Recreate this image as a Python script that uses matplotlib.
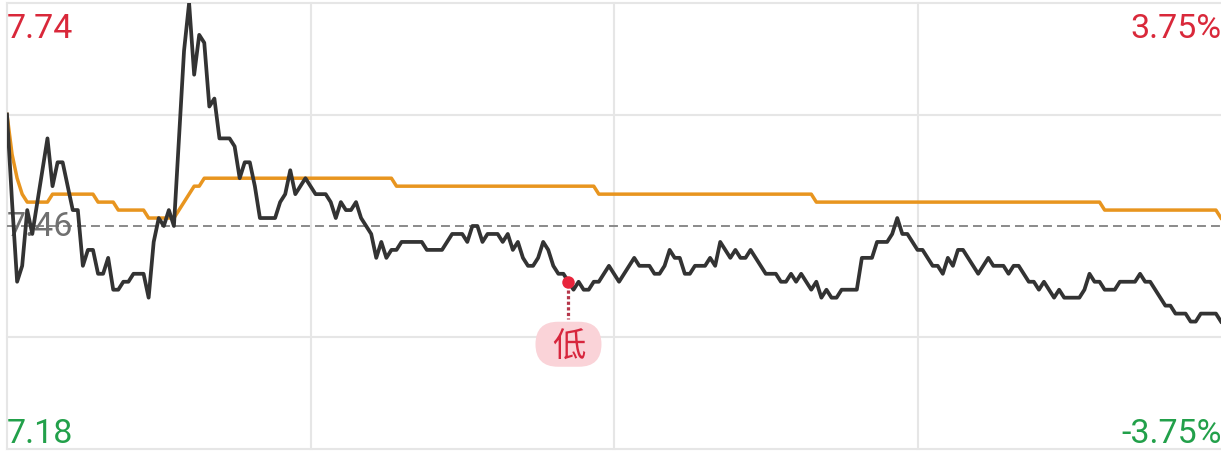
import numpy as np
import matplotlib
matplotlib.use("Agg")
import matplotlib.pyplot as plt
from matplotlib.patches import FancyBboxPatch
from matplotlib.transforms import IdentityTransform

# ---------------- data ----------------
price = [
    7.60, 7.49, 7.39, 7.41, 7.48, 7.45, 7.49, 7.53, 7.57, 7.51,
    7.54, 7.54, 7.51, 7.48, 7.48, 7.41, 7.43, 7.43, 7.40, 7.40,
    7.42, 7.38, 7.38, 7.39, 7.39, 7.40, 7.40, 7.40, 7.37, 7.44,
    7.47, 7.46, 7.48, 7.46, 7.57, 7.68, 7.74, 7.65, 7.70, 7.69,
    7.61, 7.62, 7.57, 7.57, 7.57, 7.56, 7.52, 7.54, 7.54, 7.51,
    7.47, 7.47, 7.47, 7.47, 7.49, 7.50, 7.53, 7.50, 7.51, 7.52,
    7.51, 7.50, 7.50, 7.50, 7.49, 7.47, 7.49, 7.48, 7.48, 7.49,
    7.47, 7.46, 7.45, 7.42, 7.44, 7.42, 7.43, 7.43, 7.44, 7.44,
    7.44, 7.44, 7.44, 7.43, 7.43, 7.43, 7.43, 7.44, 7.45, 7.45,
    7.45, 7.44, 7.46, 7.46, 7.44, 7.45, 7.45, 7.45, 7.44, 7.45,
    7.43, 7.44, 7.42, 7.41, 7.41, 7.42, 7.44, 7.43, 7.41, 7.40,
    7.40, 7.39, 7.38, 7.39, 7.38, 7.38, 7.39, 7.39, 7.40, 7.41,
    7.40, 7.39, 7.40, 7.41, 7.42, 7.41, 7.41, 7.41, 7.40, 7.40,
    7.41, 7.43, 7.42, 7.42, 7.40, 7.40, 7.41, 7.41, 7.41, 7.42,
    7.41, 7.44, 7.43, 7.42, 7.43, 7.42, 7.42, 7.43, 7.42, 7.41,
    7.40, 7.40, 7.40, 7.39, 7.39, 7.40, 7.39, 7.40, 7.39, 7.38,
    7.39, 7.37, 7.38, 7.37, 7.37, 7.38, 7.38, 7.38, 7.38, 7.42,
    7.42, 7.42, 7.44, 7.44, 7.44, 7.45, 7.47, 7.45, 7.45, 7.44,
    7.43, 7.43, 7.42, 7.41, 7.41, 7.40, 7.42, 7.41, 7.43, 7.43,
    7.42, 7.41, 7.40, 7.41, 7.42, 7.41, 7.41, 7.41, 7.40, 7.41,
    7.41, 7.40, 7.39, 7.39, 7.38, 7.39, 7.38, 7.37, 7.38, 7.37,
    7.37, 7.37, 7.37, 7.38, 7.40, 7.39, 7.39, 7.38, 7.38, 7.38,
    7.39, 7.39, 7.39, 7.39, 7.40, 7.39, 7.39, 7.38, 7.37, 7.36,
    7.36, 7.35, 7.35, 7.35, 7.34, 7.34, 7.35, 7.35, 7.35, 7.35,
    7.34,
]

avg_price = [
    7.60, 7.55, 7.52, 7.50, 7.49, 7.49, 7.49, 7.49, 7.49, 7.50,
    7.50, 7.50, 7.50, 7.50, 7.50, 7.50, 7.50, 7.50, 7.49, 7.49,
    7.49, 7.49, 7.48, 7.48, 7.48, 7.48, 7.48, 7.48, 7.47, 7.47,
    7.47, 7.47, 7.47, 7.47, 7.48, 7.49, 7.50, 7.51, 7.51, 7.52,
    7.52, 7.52, 7.52, 7.52, 7.52, 7.52, 7.52, 7.52, 7.52, 7.52,
    7.52, 7.52, 7.52, 7.52, 7.52, 7.52, 7.52, 7.52, 7.52, 7.52,
    7.52, 7.52, 7.52, 7.52, 7.52, 7.52, 7.52, 7.52, 7.52, 7.52,
    7.52, 7.52, 7.52, 7.52, 7.52, 7.52, 7.52, 7.51, 7.51, 7.51,
    7.51, 7.51, 7.51, 7.51, 7.51, 7.51, 7.51, 7.51, 7.51, 7.51,
    7.51, 7.51, 7.51, 7.51, 7.51, 7.51, 7.51, 7.51, 7.51, 7.51,
    7.51, 7.51, 7.51, 7.51, 7.51, 7.51, 7.51, 7.51, 7.51, 7.51,
    7.51, 7.51, 7.51, 7.51, 7.51, 7.51, 7.51, 7.50, 7.50, 7.50,
    7.50, 7.50, 7.50, 7.50, 7.50, 7.50, 7.50, 7.50, 7.50, 7.50,
    7.50, 7.50, 7.50, 7.50, 7.50, 7.50, 7.50, 7.50, 7.50, 7.50,
    7.50, 7.50, 7.50, 7.50, 7.50, 7.50, 7.50, 7.50, 7.50, 7.50,
    7.50, 7.50, 7.50, 7.50, 7.50, 7.50, 7.50, 7.50, 7.50, 7.50,
    7.49, 7.49, 7.49, 7.49, 7.49, 7.49, 7.49, 7.49, 7.49, 7.49,
    7.49, 7.49, 7.49, 7.49, 7.49, 7.49, 7.49, 7.49, 7.49, 7.49,
    7.49, 7.49, 7.49, 7.49, 7.49, 7.49, 7.49, 7.49, 7.49, 7.49,
    7.49, 7.49, 7.49, 7.49, 7.49, 7.49, 7.49, 7.49, 7.49, 7.49,
    7.49, 7.49, 7.49, 7.49, 7.49, 7.49, 7.49, 7.49, 7.49, 7.49,
    7.49, 7.49, 7.49, 7.49, 7.49, 7.49, 7.49, 7.48, 7.48, 7.48,
    7.48, 7.48, 7.48, 7.48, 7.48, 7.48, 7.48, 7.48, 7.48, 7.48,
    7.48, 7.48, 7.48, 7.48, 7.48, 7.48, 7.48, 7.48, 7.48, 7.48,
    7.47,
]

prev_close = 7.46
price_high = 7.74
price_low = 7.18
pct_high_label = "3.75%"
pct_low_label = "-3.75%"
low_index = 111
low_label = "低"
total_minutes = 240
hour_ticks = [60, 120, 180]

# ---------------- figure ----------------
W, H = 1221, 456
fig = plt.figure(figsize=(W / 100, H / 100), dpi=100)
fig.patch.set_facecolor("white")

left_px, right_px, top_px, bottom_px = 7, 1221, 4, 450
ax = fig.add_axes([left_px / W, (H - bottom_px) / H,
                   (right_px - left_px) / W, (bottom_px - top_px) / H])
ax.set_xlim(0, total_minutes)
ax.set_ylim(price_low, price_high)
ax.axis("off")

grid_c = "#E6E6E6"
mid_upper = price_high - (price_high - prev_close) / 2
mid_lower = prev_close - (prev_close - price_low) / 2
for yv in [price_high, mid_upper, mid_lower, price_low]:
    ax.axhline(yv, color=grid_c, lw=1.5, zorder=1, clip_on=False)
for xv in [0] + hour_ticks:
    ax.axvline(xv, color=grid_c, lw=1.5, zorder=1, clip_on=False)
ax.axhline(prev_close, color="#8A8A8A", lw=1.4, dashes=(4.6, 2.6), zorder=2)

x = np.arange(len(price))
ax.plot(x, avg_price, color="#E8951F", lw=2.5, zorder=4, solid_joinstyle="round")
ax.plot(x, price, color="#333333", lw=2.7, zorder=5, solid_joinstyle="round")

def ftxt(px, py, s, color, ha="left", size=24.5, family="Roboto", z=3):
    fig.text(px / W, 1 - py / H, s, color=color, ha=ha, va="baseline",
             fontsize=size, family=family, zorder=z)

red = "#D9283A"
green = "#22A04A"
ftxt(7, 38, f"{price_high:.2f}", red)
ftxt(7, 443, f"{price_low:.2f}", green)
ftxt(1222, 38, pct_high_label, red, ha="right")
ftxt(1222, 443, pct_low_label, green, ha="right")
ax.text(0.0, prev_close, f"{prev_close:.2f}", color="#707070", fontsize=24.5,
        family="Roboto", ha="left", va="center", zorder=3,
        transform=ax.transData)

# ---------------- low marker ----------------
mx, my = ax.transData.transform((low_index, price[low_index]))
ident = IdentityTransform()
ax.plot([mx], [my], "o", color="#E8253C", ms=9, mec="none",
        transform=ident, zorder=7, clip_on=False)
ax.plot([mx, mx], [my - 8, my - 37], color="#B5364A", lw=2.3,
        dashes=(1.0, 0.75), transform=ident, zorder=6, clip_on=False)
pw, ph = 66, 45
pill = FancyBboxPatch((mx - pw / 2, my - 40 - ph), pw, ph,
                      boxstyle=f"round,pad=0,rounding_size={ph/2}",
                      fc="#FAD3D8", ec="none", transform=ident, zorder=6)
fig.add_artist(pill)
fig.text(mx, my - 40 - ph / 2 - 2, low_label, transform=ident,
         color="#D7263D", fontsize=24, family=["Noto Sans CJK SC", "DejaVu Sans"],
         ha="center", va="center", zorder=8)

fig.savefig("out.png", dpi=100, facecolor="white")
